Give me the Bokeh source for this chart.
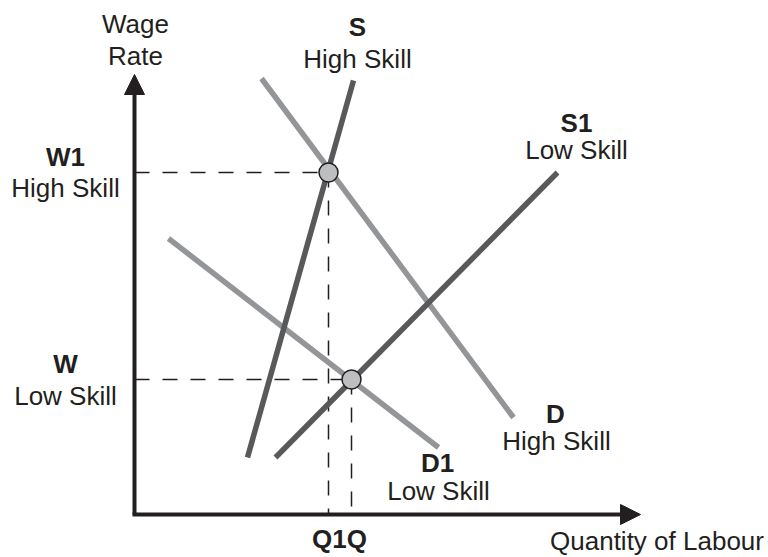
from bokeh.plotting import figure
from bokeh.models import Range1d, Arrow, NormalHead
from bokeh.core.properties import value
from bokeh.embed import file_html
from bokeh.resources import INLINE

# ---- data (quantity / wage units) ----
curve_names = ["D High Skill", "D1 Low Skill", "S High Skill", "S1 Low Skill"]
curve_q_start = [12.7, 3.4, 11.3, 14.1]
curve_w_start = [43.6, 27.6, 5.7, 5.7]
curve_q_end = [37.9, 30.4, 21.9, 42.3]
curve_w_end = [9.7, 6.7, 43.4, 34.2]
curve_colors = ["#939598", "#939598", "#58595b", "#58595b"]

eq_names = ["High Skill", "Low Skill"]
eq_q = [19.4, 21.7]
eq_w = [34.2, 13.5]

axis_q_max = 50.6
axis_w_max = 44.0

INK = "#231f20"
FONT = "Liberation Sans"

p = figure(width=768, height=557, output_backend="svg", toolbar_location=None,
           x_range=Range1d(-13.4, 63.4), y_range=Range1d(-4.3, 51.4),
           min_border=0, outline_line_color=None)
p.axis.visible = False
p.grid.visible = False
p.background_fill_color = "white"
p.border_fill_color = "white"

# dashed guide lines
p.segment(x0=[0] * len(eq_q), y0=eq_w, x1=eq_q, y1=eq_w,
          line_color=INK, line_width=1.5, line_dash="15 13")
p.segment(x0=eq_q, y0=eq_w, x1=eq_q, y1=[0] * len(eq_q),
          line_color=INK, line_width=1.5, line_dash="15 13")

# curves
p.segment(x0=curve_q_start, y0=curve_w_start, x1=curve_q_end, y1=curve_w_end,
          line_color=curve_colors, line_width=5.5)

# axes with arrows
p.add_layout(Arrow(x_start=0, y_start=0, x_end=0, y_end=axis_w_max,
                   line_color=INK, line_width=4,
                   end=NormalHead(size=20, fill_color=INK, line_color=INK, line_width=1)))
p.add_layout(Arrow(x_start=-0.2, y_start=0, x_end=axis_q_max, y_end=0,
                   line_color=INK, line_width=4,
                   end=NormalHead(size=20, fill_color=INK, line_color=INK, line_width=1)))

# equilibrium points
p.scatter(eq_q, eq_w, size=19, fill_color="#bcbec0", line_color=INK, line_width=1.5)

# labels (anchor y already compensates for renderer baseline offset)
dy = 0.95
bold_labels = [("S", 22.3, 47.8), ("W1", -6.9, 34.8), ("W", -6.9, 14.1),
               ("S1", 44.2, 38.2), ("D", 42.1, 9.1), ("D1", 30.3, 4.2),
               ("Q1Q", 20.5, -3.4)]
plain_labels = [("Wage", 0.1, 48.1), ("Rate", 0.1, 44.9),
                ("High Skill", 22.3, 44.6), ("High Skill", -6.9, 31.7),
                ("Low Skill", -6.9, 10.9), ("Low Skill", 44.2, 35.5),
                ("High Skill", 42.2, 6.4), ("Low Skill", 30.4, 1.4),
                ("Quantity of Labour", 52.25, -3.6)]

p.text(x=[b[1] for b in bold_labels], y=[b[2] + dy for b in bold_labels],
       text=[b[0] for b in bold_labels], text_font=value(FONT),
       text_font_size="26px", text_font_style="bold", text_color=INK,
       text_align="center", text_baseline="alphabetic")
p.text(x=[b[1] for b in plain_labels], y=[b[2] + dy for b in plain_labels],
       text=[b[0] for b in plain_labels], text_font=value(FONT),
       text_font_size="26px", text_color=INK,
       text_align="center", text_baseline="alphabetic")

open("out.html", "w").write(file_html(p, INLINE))
